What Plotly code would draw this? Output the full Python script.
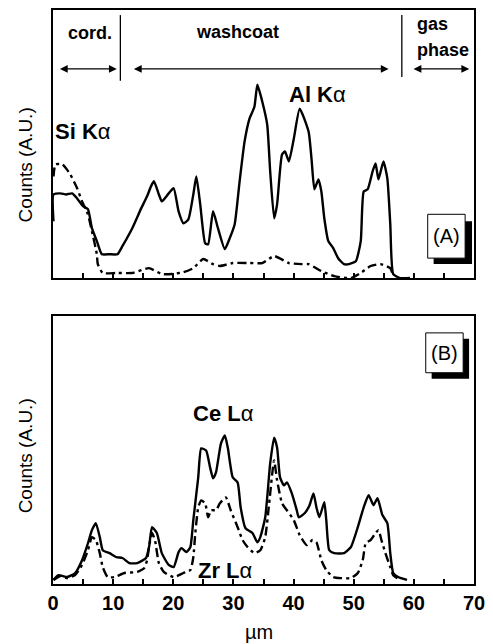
import plotly.graph_objects as go

# ---------------- data (x in um, y in arbitrary units 0-100) ----------------
al_x = [0.08, 0.08, 1.23, 2.2, 3.19, 4.01, 4.99, 5.81, 6.47, 7.29, 8.11, 9.42, 10.73, 11.54, 13.18,
        14.66, 15.64, 16.29, 16.78, 17.6, 18.1, 19.24, 20.06, 20.88, 21.7, 22.51, 23.33, 23.83, 24.48,
        25.3, 25.79, 26.61, 27.43, 28.57, 29.39, 30.21, 31.03, 31.85, 32.67, 33.49, 33.98, 34.8, 35.62,
        36.11, 36.77, 37.26, 38.08, 38.57, 39.22, 40.04, 41.02, 42.5, 42.98, 43.47, 44.13, 44.62, 45.11,
        45.77, 46.59, 47.41, 48.39, 49.21, 50.35, 51.17, 51.66, 52.32, 53.14, 53.63, 54.12, 54.94, 55.59,
        56.08, 56.57, 57.72, 59.36]
al_y = [21.2, 31.2, 31.6, 31.2, 31.6, 29.7, 26.8, 25.7, 18.6, 13.8, 8.9, 8.9, 8.9, 11.9, 18.6,
        26.0, 30.5, 34.2, 36.1, 31.2, 28.6, 31.6, 33.5, 24.9, 20.4, 21.9, 31.2, 37.9, 27.5,
        13.0, 12.6, 24.9, 18.6, 10.8, 14.9, 20.1, 36.1, 50.9, 59.5, 63.9, 72.1, 65.8, 57.2,
        39.8, 22.3, 27.5, 46.1, 47.2, 43.5, 52.0, 63.2, 54.6, 44.6, 33.1, 36.8, 32.3, 22.3,
        13.8, 11.2, 7.4, 5.2, 5.2, 6.3, 13.8, 32.3, 33.1, 39.8, 42.8, 36.8, 43.5, 37.2,
        20.1, 1.5, 0.0, 0.0]

si_x = [0.08, 0.41, 1.56, 2.87, 4.01, 4.83, 5.81, 6.47, 7.29, 7.45, 8.27, 10.57, 13.18, 15.96, 18.09,
        19.73, 21.7, 23.33, 24.97, 26.61, 27.75, 29.88, 32.67, 34.8, 36.77, 39.22, 41.35, 42.5, 44.62,
        46.75, 49.54, 51.17, 52.81, 54.45, 56.08, 56.57]
si_y = [37.9, 42.4, 42.4, 38.7, 33.5, 28.6, 23.8, 17.5, 8.9, 5.2, 1.9, 1.9, 1.9, 3.7, 1.5,
        1.5, 2.2, 3.7, 7.1, 5.2, 4.5, 5.6, 5.6, 5.6, 8.2, 5.6, 5.2, 5.2, 2.6,
        0.7, 0.0, 1.9, 4.5, 5.2, 3.7, 0.7]

ce_x = [0.08, 0.9, 2.37, 3.68, 4.83, 5.81, 6.47, 7.12, 7.78, 8.27, 9.42, 10.56, 11.54, 12.69, 14.0,
        15.47, 15.97, 16.46, 17.27, 18.09, 19.24, 20.06, 20.88, 21.37, 22.19, 22.84, 23.33, 24.15, 24.64,
        25.46, 26.12, 26.61, 27.1, 27.92, 28.57, 29.06, 29.88, 30.7, 31.2, 32.01, 33.16, 33.98, 34.47,
        35.29, 36.11, 36.76, 37.26, 37.75, 38.4, 38.89, 39.71, 40.53, 40.86, 41.84, 42.66, 43.31, 43.8,
        44.29, 45.11, 45.44, 45.93, 46.75, 48.39, 49.54, 50.68, 51.66, 52.48, 53.3, 53.96, 54.77, 55.59,
        56.08, 56.57, 57.39, 58.86]
ce_y = [1.5, 3.3, 2.6, 4.1, 8.9, 15.2, 20.1, 22.7, 17.5, 12.6, 11.5, 10.0, 9.7, 7.8, 7.8,
        9.7, 13.8, 21.2, 19.0, 11.5, 7.1, 6.3, 11.9, 13.4, 11.9, 13.8, 23.8, 39.8, 50.6,
        49.8, 43.5, 39.4, 41.6, 52.4, 55.4, 50.9, 39.8, 37.9, 28.6, 20.8, 19.0, 15.6, 17.5,
        24.9, 45.0, 54.6, 50.9, 39.8, 36.8, 37.9, 33.8, 27.5, 24.9, 26.4, 29.4, 33.8, 28.6,
        24.9, 30.5, 23.8, 12.6, 11.5, 11.5, 13.8, 21.2, 28.6, 33.1, 29.4, 32.0, 25.7, 22.7,
        11.5, 4.1, 2.6, 1.5]

zr_x = [0.08, 1.23, 2.37, 3.68, 4.83, 5.81, 6.47, 7.12, 7.78, 8.27, 9.09, 10.23, 11.87, 14.0, 15.15,
        15.64, 15.97, 16.46, 16.95, 17.6, 18.42, 20.06, 21.7, 22.84, 23.33, 23.66, 24.15, 24.64, 25.3,
        25.79, 26.28, 27.1, 27.75, 28.74, 29.55, 30.7, 31.52, 32.34, 33.49, 34.47, 35.29, 35.94, 36.76,
        37.26, 38.08, 38.89, 40.04, 41.02, 42.17, 43.15, 43.8, 44.62, 45.44, 46.59, 47.9, 49.54, 50.68,
        51.5, 51.99, 52.81, 53.63, 54.12, 54.61, 55.27, 56.08, 56.57, 57.72]
zr_y = [1.5, 3.0, 2.2, 3.3, 7.1, 12.6, 17.5, 16.4, 11.5, 6.3, 2.6, 2.6, 4.1, 4.5, 5.9,
        8.9, 13.8, 19.0, 16.4, 7.8, 4.5, 2.6, 4.1, 5.2, 10.0, 19.0, 28.6, 31.2, 30.1,
        24.9, 27.5, 27.5, 30.1, 32.3, 27.5, 21.2, 16.4, 13.8, 11.5, 12.6, 17.5, 30.1, 46.1,
        38.7, 30.1, 27.5, 23.8, 18.2, 14.5, 16.4, 15.6, 8.9, 5.2, 2.6, 2.2, 2.2, 4.1,
        8.9, 15.2, 16.4, 19.0, 20.1, 16.4, 11.5, 6.3, 3.3, 1.5]

tick_vals = [0, 5, 10, 15, 20, 25, 30, 35, 40, 45, 50, 55, 60, 65, 70]
tick_text = ["<b>0</b>", "", "<b>10</b>", "", "<b>20</b>", "", "<b>30</b>", "", "<b>40</b>", "",
             "<b>50</b>", "", "<b>60</b>", "", "<b>70</b>"]

# ---------------- geometry helpers ----------------
W, H = 493, 644
L, R, T, B = 52.5, 480, 8, 584
PW, PH = R - L, B - T


def px(xp):
    return (xp - L) / PW


def py(yp):
    return (B - yp) / PH


FONT = "Liberation Sans, Arial, sans-serif"
DASHDOT = "9px,4px,3px,4px"

fig = go.Figure()
fig.add_trace(go.Scatter(x=al_x, y=al_y, mode="lines", xaxis="x", yaxis="y",
                         line=dict(color="black", width=2.4, shape="spline", smoothing=0.5)))
fig.add_trace(go.Scatter(x=si_x, y=si_y, mode="lines", xaxis="x", yaxis="y",
                         line=dict(color="black", width=2.4, dash=DASHDOT, shape="spline", smoothing=0.5)))
fig.add_trace(go.Scatter(x=ce_x, y=ce_y, mode="lines", xaxis="x2", yaxis="y2",
                         line=dict(color="black", width=2.4, shape="spline", smoothing=0.5)))
fig.add_trace(go.Scatter(x=zr_x, y=zr_y, mode="lines", xaxis="x2", yaxis="y2",
                         line=dict(color="black", width=2.4, dash=DASHDOT, shape="spline", smoothing=0.5)))

axis_common = dict(range=[0, 70], showline=True, mirror=True, linecolor="black", linewidth=2,
                   ticks="inside", ticklen=5, tickwidth=1.5, tickcolor="black",
                   tickmode="array", tickvals=tick_vals, showgrid=False, zeroline=False)
yaxis_common = dict(range=[0, 100], showline=True, mirror=True, linecolor="black", linewidth=2,
                    ticks="", showticklabels=False, showgrid=False, zeroline=False)

top_dom = [py(277), 1.0]
bot_dom = [0.0, py(315)]

annotations = []


def txt(x, y, s, size, xanchor="center", xref="x", yref="y", angle=0, weight="normal"):
    annotations.append(dict(x=x, y=y, xref=xref, yref=yref, text=s, showarrow=False,
                            xanchor=xanchor, yanchor="middle", textangle=angle,
                            font=dict(family=FONT, size=size, color="black", weight=weight)))


# element labels
txt(0.05, 54.6, "<b>Si K</b>α", 22, xanchor="left")
txt(38.9, 68.4, "<b>Al K</b>α", 22, xanchor="left")
txt(22.9, 63.6, "<b>Ce L</b>α", 22, xanchor="left", xref="x2", yref="y2")
txt(23.8, 5.2, "<b>Zr L</b>α", 22, xanchor="left", xref="x2", yref="y2")

# region headers
txt(6.15, 91.4, "<b>cord.</b>", 18)
txt(30.7, 91.8, "<b>washcoat</b>", 18)
txt(60.2, 94.8, "<b>gas</b>", 18, xanchor="left")
txt(60.2, 85.1, "<b>phase</b>", 18, xanchor="left")

# axis titles
txt(px(25), py(163), "Counts (A.U.)", 19, xref="paper", yref="paper", angle=-90)
txt(px(25), py(455), "Counts (A.U.)", 19, xref="paper", yref="paper", angle=-90)
txt(px(262), py(632), "µm", 20, xref="paper", yref="paper")

# double arrows
for x0, x1 in [(0.9, 10.6), (13.2, 55.8), (59.7, 69.2)]:
    annotations.append(dict(x=x1, y=78, ax=x0, ay=78, xref="x", yref="y", axref="x", ayref="y",
                            text="", showarrow=True, arrowside="end+start", arrowhead=2,
                            arrowsize=1.2, arrowwidth=1.3, arrowcolor="black", standoff=0,
                            startstandoff=0))

# panel tags
for label, (bx0, by0, bx1, by1) in [("(A)", (433, 213, 471, 257)), ("(B)", (431, 332, 469, 372))]:
    txt(px((bx0 + bx1) / 2), py((by0 + by1) / 2), label, 20, xref="paper", yref="paper")

shapes = []
# region divider lines
shapes.append(dict(type="line", xref="x", yref="y", x0=11.2, x1=11.2, y0=73.6, y1=98.1,
                   line=dict(color="black", width=1.3)))
shapes.append(dict(type="line", xref="x", yref="y", x0=58.0, x1=58.0, y0=75.0, y1=98.1,
                   line=dict(color="black", width=1.3)))
# tag boxes with shadow
for (sx0, sy0, sx1, sy1), (bx0, by0, bx1, by1) in [((439, 220, 478, 263), (433, 213, 471, 257)),
                                                  ((437, 338, 475, 378), (431, 332, 469, 372))]:
    shapes.append(dict(type="rect", xref="paper", yref="paper", x0=px(sx0), x1=px(sx1),
                       y0=py(sy1), y1=py(sy0), fillcolor="black", line=dict(width=0), layer="above"))
    shapes.append(dict(type="rect", xref="paper", yref="paper", x0=px(bx0), x1=px(bx1),
                       y0=py(by1), y1=py(by0), fillcolor="white",
                       line=dict(color="black", width=1), layer="above"))

fig.update_layout(
    width=W, height=H,
    margin=dict(l=L, r=W - R, t=T, b=H - B, pad=0),
    paper_bgcolor="white", plot_bgcolor="white",
    showlegend=False,
    xaxis=dict(axis_common, anchor="y", showticklabels=False),
    yaxis=dict(yaxis_common, domain=top_dom, anchor="x"),
    xaxis2=dict(axis_common, anchor="y2", showticklabels=True, ticktext=tick_text,
                tickfont=dict(family=FONT, size=20, color="black")),
    yaxis2=dict(yaxis_common, domain=bot_dom, anchor="x2"),
    annotations=annotations,
    shapes=shapes,
)

fig.write_html("out.html")
